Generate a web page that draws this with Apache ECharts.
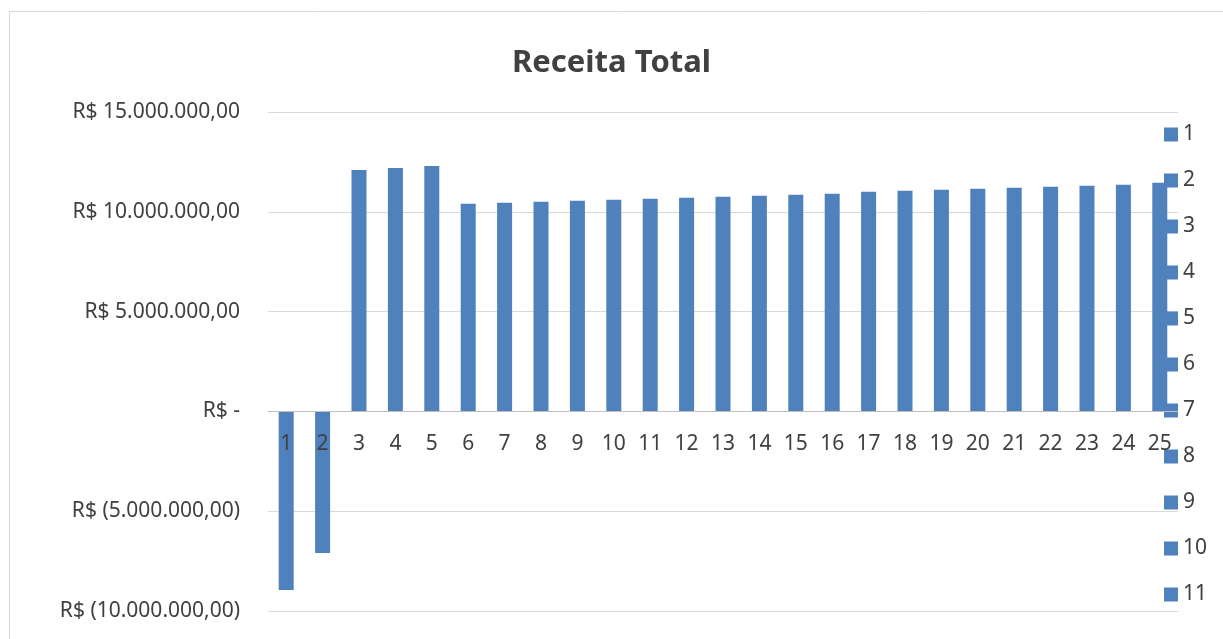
<!DOCTYPE html>
<html>
<head>
<meta charset="utf-8">
<script src="https://cdn.jsdelivr.net/npm/echarts@6/dist/echarts.min.js"></script>
<style>
	html, body { margin: 0; padding: 0; background: #fff; }
	#chart { width: 1223px; height: 639px; }
</style>
</head>
<body>
<div id="chart"></div>
<script>
// periodos (anos) e receita total em R$
var categories = ['1', '2', '3', '4', '5', '6', '7', '8', '9', '10', '11', '12', '13',
	'14', '15', '16', '17', '18', '19', '20', '21', '22', '23', '24', '25']
var receita = [-8950000, -7090000, 12100000, 12200000, 12300000, 10400000, 10450000,
	10500000, 10550000, 10600000, 10650000, 10700000, 10750000, 10800000, 10850000,
	10900000, 11000000, 11050000, 11100000, 11150000, 11200000, 11250000, 11300000,
	11350000, 11450000]
// a legenda do Excel aparece cortada depois do item 11
var legendItems = categories.slice(0, 11)

var blue = '#4f81bd'
var textColor = '#404040'
var font = 'Noto Sans'

function fmtReal(v) {
	if (v === 0) return 'R$ -'
	var s = Math.abs(v).toFixed(2).split('.')
	var inteiro = s[0].replace(/\B(?=(\d{3})+(?!\d))/g, '.')
	var txt = inteiro + ',' + s[1]
	return v < 0 ? 'R$ (' + txt + ')' : 'R$ ' + txt
}

// uma serie por periodo, empilhadas, para que a legenda liste os periodos
var series = categories.map(function (name, i) {
	return {
		name: name,
		type: 'bar',
		stack: 'total',
		barWidth: 15,
		itemStyle: { color: blue },
		data: receita.map(function (v, j) { return j === i ? v : '-' })
	}
})

var chart = echarts.init(document.getElementById('chart'))
chart.setOption({
	animation: false,
	backgroundColor: '#fff',
	textStyle: { fontFamily: font },
	title: {
		text: 'Receita Total',
		left: 'center',
		top: 43,
		textStyle: {
			color: textColor,
			fontFamily: font,
			fontWeight: 'bold',
			fontSize: 31
		}
	},
	graphic: [{
		type: 'rect',
		z: -10,
		shape: { x: 9.5, y: 11.5, width: 1300, height: 700 },
		style: { fill: 'none', stroke: '#d9d9d9', lineWidth: 1 },
		silent: true
	}],
	legend: {
		data: legendItems,
		orient: 'vertical',
		left: 1159,
		top: 119,
		height: 1000,
		itemGap: 25,
		itemWidth: 14,
		itemHeight: 14,
		icon: 'rect',
		selectedMode: false,
		textStyle: {
			color: textColor,
			fontFamily: font,
			fontSize: 21
		}
	},
	grid: {
		left: 268,
		right: 45,
		top: 112,
		bottom: 28,
		outerBoundsMode: 'none',
		containLabel: false
	},
	xAxis: {
		type: 'category',
		data: categories,
		z: 5,
		position: 'bottom',
		// eixo no zero: 10M de 25M acima da base do grid (499px * 10/25)
		offset: -199.6,
		axisLine: { onZero: false, lineStyle: { color: '#bfbfbf', width: 1 } },
		axisTick: { show: false },
		axisLabel: {
			color: textColor,
			fontFamily: font,
			fontSize: 21,
			margin: 22,
			interval: 0
		}
	},
	yAxis: {
		type: 'value',
		min: -10000000,
		max: 15000000,
		interval: 5000000,
		axisLine: { show: false },
		axisTick: { show: false },
		splitLine: { lineStyle: { color: '#d9d9d9', width: 1 } },
		axisLabel: {
			color: textColor,
			fontFamily: font,
			fontSize: 21,
			margin: 28,
			formatter: fmtReal
		}
	},
	series: series
})
</script>
</body>
</html>
